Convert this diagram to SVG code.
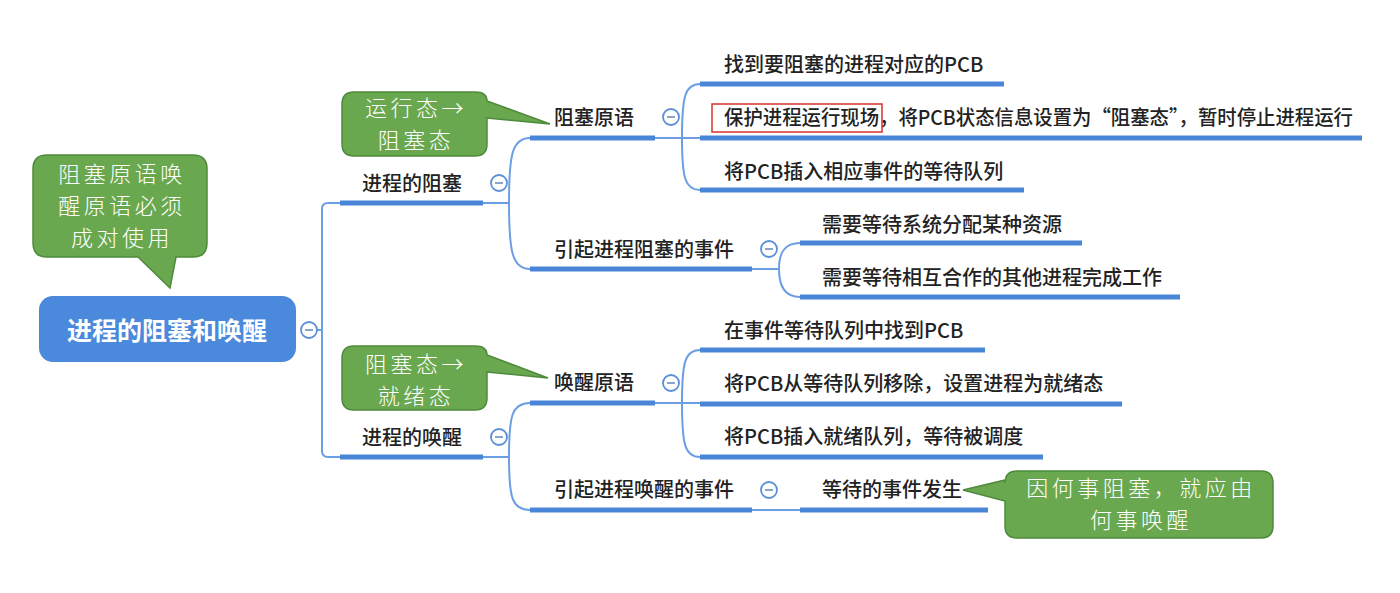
<svg xmlns="http://www.w3.org/2000/svg" width="1400" height="593" viewBox="0 0 1400 593">
<style>
.ul{stroke:#4a86d8;stroke-width:5;fill:none}
.cn{stroke:#6b9ee2;stroke-width:2;fill:none}
.lbl{font-family:"Noto Sans CJK SC","Noto Sans",sans-serif;font-size:20px;fill:#222;font-weight:500}
.root{font-family:"Noto Sans CJK SC","Noto Sans",sans-serif;font-size:25px;fill:#fff;font-weight:700}
.co{fill:#6aa84f;stroke:#4f8a3c;stroke-width:1.5}
.cot{font-family:"Noto Sans CJK SC","Noto Sans",sans-serif;font-size:22px;fill:#fff;font-weight:300;text-anchor:middle;letter-spacing:3.5px}
.tg circle{fill:#fff;stroke:#5b8fd9;stroke-width:1.8}
.tg line{stroke:#8aa5c8;stroke-width:2}
</style>
<rect width="1400" height="593" fill="#fff"/>
<g id="connectors">
<path class="cn" d="M317,330 H322 M322,330 V209 Q322,203 328,203 H340 M322,330 V451 Q322,457 328,457 H340"/>
<path class="cn" d="M483,203 H509 M509,203 C509,155 512,138 530,138 M509,203 C509,251 512,269 530,269"/>
<path class="cn" d="M483,457 H509 M509,457 C509,415 512,403 530,403 M509,457 C509,498 512,510 530,510"/>
<path class="cn" d="M655,138 H700 M682,138 C682,96 685,84 700,84 M682,138 C682,178 685,190 700,190"/>
<path class="cn" d="M752,269 H779 M779,269 C779,252 785,243 800,243 M779,269 C779,286 785,297 800,297"/>
<path class="cn" d="M655,403 H700 M682,403 C682,362 685,350 700,350 M682,403 C682,445 685,457 700,457"/>
<path class="cn" d="M752,510 H800"/>
</g>
<g id="root">
<rect x="39" y="296" width="257" height="66" rx="14" fill="#4a89dc"/>
<text class="root" x="167" y="340" text-anchor="middle">进程的阻塞和唤醒</text>
<g class="tg"><circle cx="309" cy="330" r="8"/><line x1="305" y1="330" x2="313" y2="330"/></g>
</g>
<g id="n-block">
<line class="ul" x1="340" y1="203" x2="483" y2="203"/>
<text class="lbl" x="362" y="191">进程的阻塞</text>
<g class="tg"><circle cx="499" cy="183" r="8"/><line x1="495" y1="183" x2="503" y2="183"/></g>
</g>
<g id="n-wake">
<line class="ul" x1="340" y1="457" x2="483" y2="457"/>
<text class="lbl" x="362" y="445">进程的唤醒</text>
<g class="tg"><circle cx="499" cy="437" r="8"/><line x1="495" y1="437" x2="503" y2="437"/></g>
</g>
<g id="n-block-prim">
<line class="ul" x1="530" y1="138" x2="655" y2="138"/>
<text class="lbl" x="554" y="125">阻塞原语</text>
<g class="tg"><circle cx="671" cy="117" r="8"/><line x1="667" y1="117" x2="675" y2="117"/></g>
</g>
<g id="n-block-event">
<line class="ul" x1="530" y1="269" x2="752" y2="269"/>
<text class="lbl" x="554" y="257">引起进程阻塞的事件</text>
<g class="tg"><circle cx="769" cy="249" r="8"/><line x1="765" y1="249" x2="773" y2="249"/></g>
</g>
<g id="n-wake-prim">
<line class="ul" x1="530" y1="403" x2="655" y2="403"/>
<text class="lbl" x="554" y="390">唤醒原语</text>
<g class="tg"><circle cx="671" cy="383" r="8"/><line x1="667" y1="383" x2="675" y2="383"/></g>
</g>
<g id="n-wake-event">
<line class="ul" x1="530" y1="510" x2="752" y2="510"/>
<text class="lbl" x="554" y="497">引起进程唤醒的事件</text>
<g class="tg"><circle cx="769" cy="490" r="8"/><line x1="765" y1="490" x2="773" y2="490"/></g>
</g>
<g id="b1">
<line class="ul" x1="700" y1="84" x2="1004" y2="84"/>
<text class="lbl" x="724" y="72">找到要阻塞的进程对应的PCB</text>
</g>
<g id="b2">
<line class="ul" x1="700" y1="138" x2="1362" y2="138"/>
<text class="lbl" x="724" y="125" textLength="629" lengthAdjust="spacingAndGlyphs">保护进程运行现场，将PCB状态信息设置为“阻塞态”，暂时停止进程运行</text>
<rect x="712" y="104" width="170" height="28" fill="none" stroke="#d9302c" stroke-width="1.5"/>
</g>
<g id="b3">
<line class="ul" x1="700" y1="190" x2="1024" y2="190"/>
<text class="lbl" x="724" y="179">将PCB插入相应事件的等待队列</text>
</g>
<g id="e1">
<line class="ul" x1="800" y1="243" x2="1082" y2="243"/>
<text class="lbl" x="822" y="232">需要等待系统分配某种资源</text>
</g>
<g id="e2">
<line class="ul" x1="800" y1="297" x2="1180" y2="297"/>
<text class="lbl" x="822" y="285">需要等待相互合作的其他进程完成工作</text>
</g>
<g id="w1">
<line class="ul" x1="700" y1="350" x2="985" y2="350"/>
<text class="lbl" x="724" y="338">在事件等待队列中找到PCB</text>
</g>
<g id="w2">
<line class="ul" x1="700" y1="404" x2="1122" y2="404"/>
<text class="lbl" x="724" y="391">将PCB从等待队列移除，设置进程为就绪态</text>
</g>
<g id="w3">
<line class="ul" x1="700" y1="457" x2="1043" y2="457"/>
<text class="lbl" x="724" y="444">将PCB插入就绪队列，等待被调度</text>
</g>
<g id="we1">
<line class="ul" x1="800" y1="510" x2="988" y2="510"/>
<text class="lbl" x="822" y="497">等待的事件发生</text>
</g>
<g id="callout-pair">
<path class="co" d="M47,155 H193 Q207,155 207,169 V243 Q207,257 193,257 H176 L170,288 L138,257 H47 Q33,257 33,243 V169 Q33,155 47,155 Z"/>
<text class="cot"><tspan x="122" y="182">阻塞原语唤</tspan><tspan x="122" y="214">醒原语必须</tspan><tspan x="122" y="246">成对使用</tspan></text>
</g>
<g id="callout-run-block">
<path class="co" d="M354,92 H475 Q487,92 487,101 L550,124 L487,118 V144 Q487,156 475,156 H354 Q342,156 342,144 V104 Q342,92 354,92 Z"/>
<text class="cot"><tspan x="416" y="116">运行态→</tspan><tspan x="416" y="148">阻塞态</tspan></text>
</g>
<g id="callout-block-ready">
<path class="co" d="M354,346 H475 Q487,346 487,355 L548,378 L487,372 V398 Q487,410 475,410 H354 Q342,410 342,398 V358 Q342,346 354,346 Z"/>
<text class="cot"><tspan x="416" y="372">阻塞态→</tspan><tspan x="416" y="404">就绪态</tspan></text>
</g>
<g id="callout-cause">
<path class="co" d="M1017,471 H1261 Q1273,471 1273,483 V526 Q1273,538 1261,538 H1017 Q1005,538 1005,526 V501 L963,490 L1005,480 V483 Q1005,471 1017,471 Z"/>
<text class="cot"><tspan x="1141" y="496">因何事阻塞，就应由</tspan><tspan x="1141" y="528">何事唤醒</tspan></text>
</g>
</svg>
